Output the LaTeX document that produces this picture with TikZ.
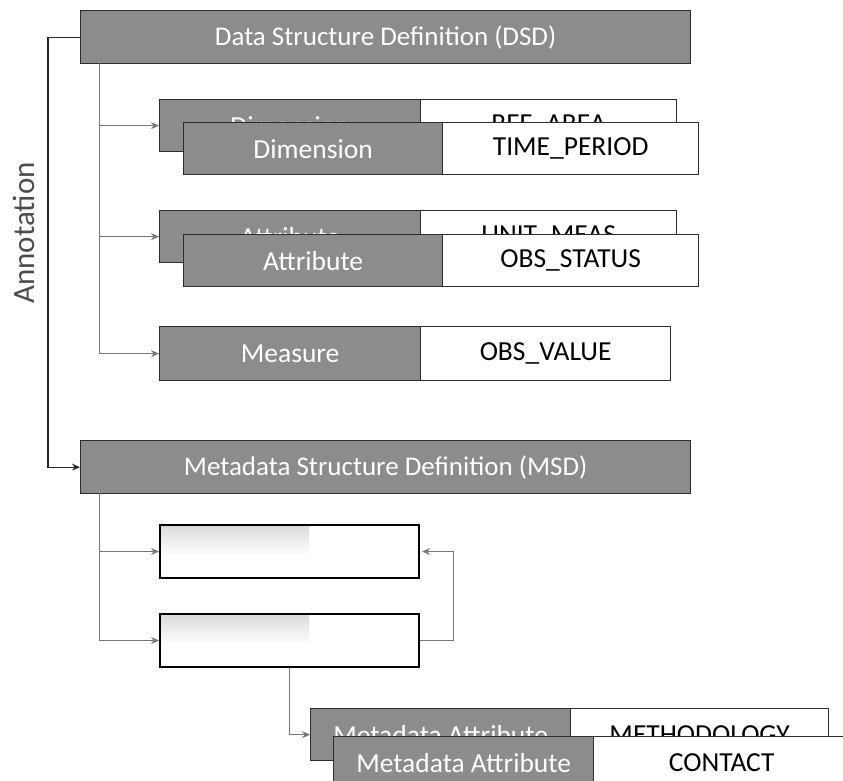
\documentclass[tikz,border=0pt]{standalone}
\usepackage{fontspec}
\setmainfont{Carlito}
\usetikzlibrary{arrows.meta}
\definecolor{boxgray}{RGB}{140,140,140}
\definecolor{edgegray}{RGB}{45,45,45}
\definecolor{linegray}{RGB}{120,120,120}
\tikzset{
  partbox/.style={draw=edgegray, line width=1.3pt, minimum height=52pt, inner sep=0pt, anchor=north west},
  graypart/.style={partbox, fill=boxgray, text=white, font=\fontsize{27.5}{27.5}\selectfont},
  whitepart/.style={partbox, fill=white, text=black, font=\fontsize{27.5}{27.5}\selectfont},
  headbox/.style={partbox, fill=boxgray, text=white, minimum width=610pt, minimum height=53pt, font=\fontsize{27}{27}\selectfont},
  emptybox/.style={draw=black, line width=2pt, fill=white, minimum width=259pt, minimum height=53pt, inner sep=0pt, anchor=north west},
  conn/.style={draw=linegray, line width=0.8pt, -{Stealth[length=8pt,width=7pt]}},
  trunk/.style={draw=black!70, line width=0.9pt},
  annot/.style={draw=black!85, line width=1.2pt, -{Stealth[length=8pt,width=7pt]}}
}
\begin{document}
\begin{tikzpicture}[x=1pt,y=1pt]
\useasboundingbox (0,0) rectangle (843,-780);
\clip (0,0) rectangle (843,-780);
% headers
\node[headbox] (dsd) at (80,-10) {Data Structure Definition (DSD)};
\node[headbox] (msd) at (80,-440) {Metadata Structure Definition (MSD)};
% dimension back
\node[graypart, minimum width=261pt] (dimbackL) at (159,-99) {Dimension};
\node[whitepart, minimum width=256pt] (dimbackR) at (420,-99) {REF\_AREA};
% dimension front
\node[graypart, minimum width=259pt] (dimL) at (183,-122) {Dimension};
\node[whitepart, minimum width=256pt] (dimR) at (442,-122) {TIME\_PERIOD};
% attribute back
\node[graypart, minimum width=261pt] (attbackL) at (159,-210) {Attribute};
\node[whitepart, minimum width=256pt] (attbackR) at (420,-210) {UNIT\_MEAS};
% attribute front
\node[graypart, minimum width=259pt] (attL) at (183,-234) {Attribute};
\node[whitepart, minimum width=256pt] (attR) at (442,-234) {OBS\_STATUS};
% measure
\node[graypart, minimum width=261pt, minimum height=54pt] (measL) at (159,-326) {Measure};
\node[whitepart, minimum width=250pt, minimum height=54pt] (measR) at (420,-326) {OBS\_VALUE};
% MSD empty boxes
\node[emptybox] (e1) at (159,-524) {};
\node[emptybox] (e2) at (159,-613) {};
\shade[top color=gray!28, bottom color=white] ([shift={(2,-2)}]e1.north west) rectangle ([shift={(150,-32)}]e1.north west);
\shade[top color=gray!28, bottom color=white] ([shift={(2,-2)}]e2.north west) rectangle ([shift={(150,-32)}]e2.north west);
% metadata attribute back
\node[graypart, minimum width=260pt] (metbackL) at (310,-708) {Metadata Attribute};
\node[whitepart, minimum width=258pt] (metbackR) at (570,-708) {METHODOLOGY};
% metadata attribute front
\node[graypart, minimum width=260pt] (metL) at (333,-736) {Metadata Attribute};
\node[whitepart, minimum width=256pt] (metR) at (593,-736) {CONTACT};
% annotation
\node[rotate=90, text=black!70, font=\fontsize{31}{31}\selectfont] (annlabel) at (24,-233) {Annotation};
\draw[annot] (dsd.west) -- ++(-32,0) |- (msd.west);
% DSD connectors
\coordinate (dsdtop) at (99,-63);
\draw[trunk] (dsdtop) -- (99,-353);
\draw[conn] (dsdtop) |- (dimbackL.west);
\draw[conn] (dsdtop) |- (attbackL.west);
\draw[conn] (dsdtop) |- (measL.west);
% MSD connectors
\coordinate (msdtop) at (99,-493);
\draw[trunk] (msdtop) -- (99,-640);
\draw[conn] (msdtop) |- (e1.west);
\draw[conn] (msdtop) |- (e2.west);
\draw[conn] (e2.east) -- ++(33,0) |- ([xshift=2pt]e1.east);
\draw[conn] (e2.south) |- (metbackL.west);
\end{tikzpicture}
\end{document}
